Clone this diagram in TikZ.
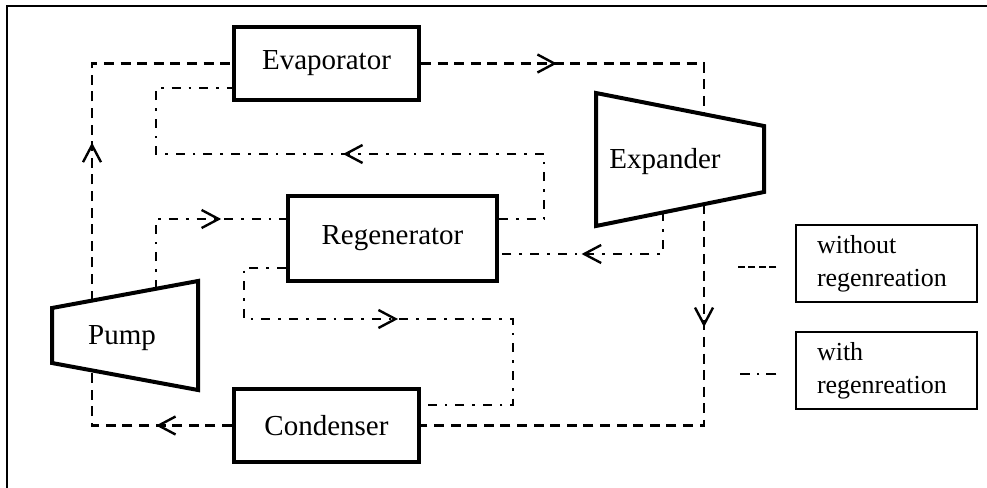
\documentclass[tikz,border=0pt]{standalone}
\usepackage{fontspec}
\setmainfont{Liberation Serif}
\usetikzlibrary{arrows.meta}
\usetikzlibrary{decorations.markings}
\usetikzlibrary{calc}

\tikzset{
  unit/.style={draw, line width=2pt, minimum width=92.5pt, minimum height=36.5pt, font=\fontsize{14.5}{17}\selectfont},
  machine/.style={draw, line width=2pt, line join=miter},
  withoutreg/.style={line width=1.2pt, dash pattern=on 5pt off 3.3pt},
  withreg/.style={line width=1.2pt, dash pattern=on 4.5pt off 4pt on 1.3pt off 4pt},
  flow/.style={postaction={decorate}, decoration={markings, mark=at position #1 with {\arrow{Straight Barb[length=8.5pt,width=9pt,line width=1.2pt]}}}},
  legendbox/.style={draw, line width=0.7pt, text width=69.5pt, minimum height=38.5pt, align=left, inner xsep=10.5pt, font=\fontsize{13}{16.5}\selectfont}
}

\begin{document}
\begin{tikzpicture}[x=0.5pt, y=-0.5pt]
        \useasboundingbox (0,0) rectangle (987,488);
        \draw[line width=0.7pt] (7,488) -- (7,6) -- (987,6);

        \node[unit] (evap) at (326.5,63.5) {Evaporator};
        \node[unit, minimum width=104.5pt, minimum height=42.5pt] (regen) at (392.5,238.5) {Regenerator};
        \node[unit] (cond) at (326.5,425.5) {Condenser};

        \draw[machine] (52,308) coordinate (pTL) -- (198,281) coordinate (pTR) -- (198,390) coordinate (pBR) -- (52,363) coordinate (pBL) -- cycle;
        \node[font=\fontsize{14.5}{17}\selectfont] (pump) at (122,338) {Pump};
        \draw[machine] (596,93) coordinate (eTL) -- (764,126) coordinate (eTR) -- (764,192) coordinate (eBR) -- (596,226) coordinate (eBL) -- cycle;
        \node[font=\fontsize{14.5}{17}\selectfont] (expander) at (665,162) {Expander};

        \coordinate (pumpout) at ($(pTL)!0.274!(pTR)$);
        \coordinate (pumpoutreg) at ($(pTL)!0.712!(pTR)$);
        \coordinate (pumpin) at ($(pBL)!0.274!(pBR)$);
        \coordinate (expin) at ($(eTL)!0.643!(eTR)$);
        \coordinate (expout) at ($(eBL)!0.643!(eBR)$);
        \coordinate (expoutreg) at ($(eBL)!0.399!(eBR)$);

        \draw[withoutreg, flow=79pt] (pumpout) |- (evap.west);
        \draw[withoutreg, flow=68pt] (evap.east) -| (expin);
        \draw[withoutreg, flow=61.5pt] (expout) |- (cond.east);
        \draw[withoutreg, flow=38pt] (cond.west) -| (pumpin);

        \draw[withreg, flow=67.5pt] (pumpoutreg) |- ($(regen.west)+(0,-19.5)$);
        \draw[withreg, flow=155.5pt] ($(regen.east)+(0,-19.5)$) -- ++(45,0) |- (156,154) |- ($(evap.west)+(0,24.5)$);
        \draw[withreg, flow=61.5pt] (expoutreg) |- ($(regen.east)+(0,15.5)$);
        \draw[withreg, flow=123.5pt] ($(regen.west)+(0,29.5)$) -- ++(-42,0) |- (513,319) |- ($(cond.east)+(0,-20.5)$);

        \node[legendbox] (nolegend) at (886.5,263.5) {without\\regenreation};
        \node[legendbox] (reglegend) at (886.5,370.5) {with\\regenreation};
        \draw[line width=1.2pt, dash pattern=on 3.5pt off 1.8pt] ($(nolegend.west)+(-19,3.5)$) -- ++(-39,0);
        \draw[line width=1.2pt, dash pattern=on 5pt off 3.5pt on 1.3pt off 3.5pt] ($(reglegend.west)+(-19,3.5)$) -- ++(-39,0);
\end{tikzpicture}
\end{document}
